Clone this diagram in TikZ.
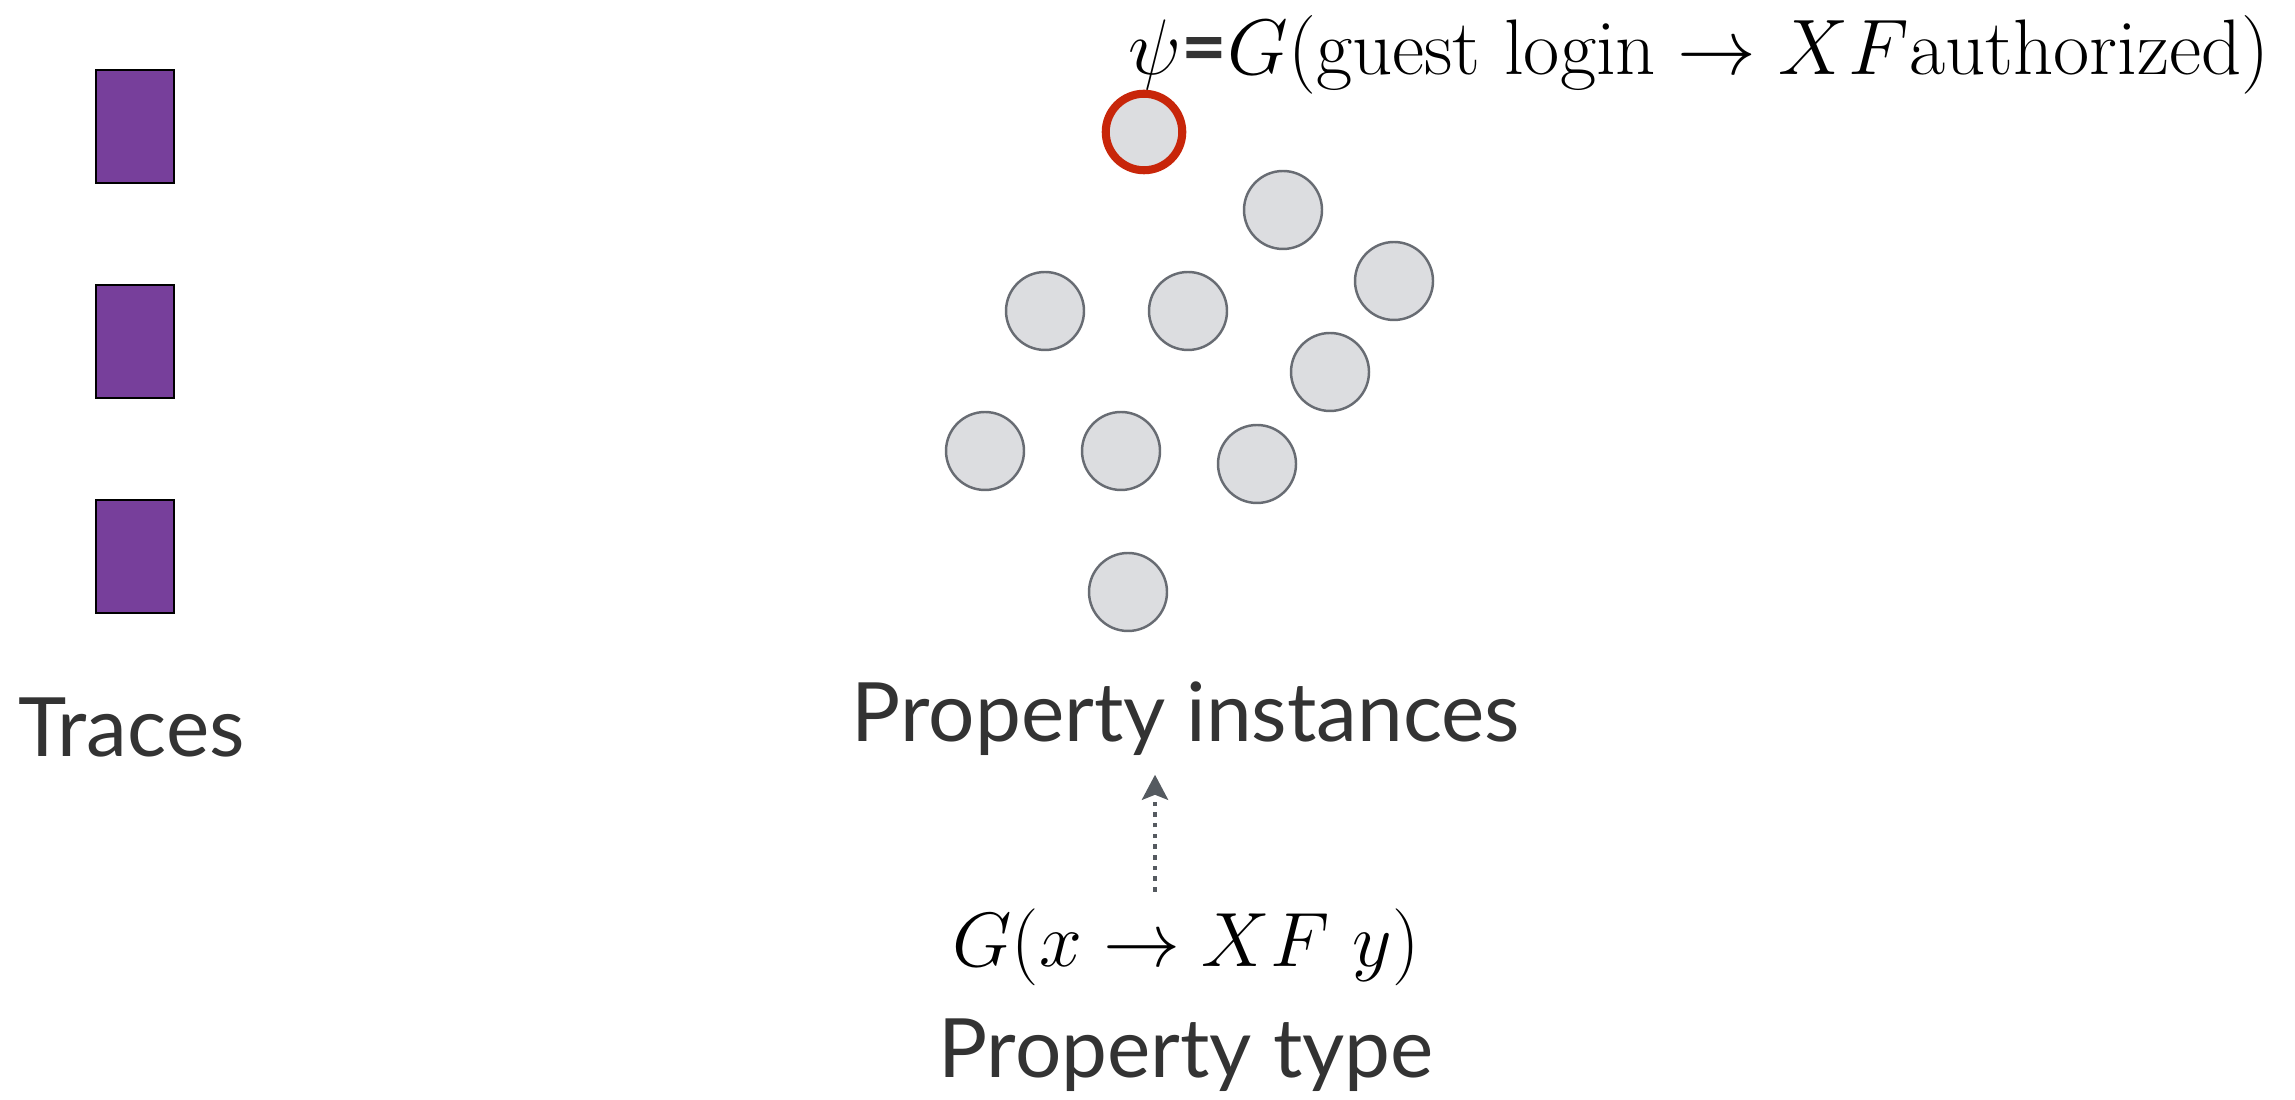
\RequirePackage{fix-cm}
\documentclass[tikz,border=0pt]{standalone}
\usepackage{fontspec}
\usetikzlibrary{arrows.meta,positioning}
\newfontfamily\labelfont{Lato}
\definecolor{TracePurple}{HTML}{773F9B}
\definecolor{InstGray}{HTML}{DCDDE0}
\definecolor{EdgeGray}{HTML}{686C73}
\definecolor{PickRed}{HTML}{C8260A}
\definecolor{TextGray}{HTML}{333333}
\definecolor{ArrowGray}{HTML}{555A60}

\begin{document}
\begin{tikzpicture}[
    trace/.style={draw=black,line width=0.6pt,fill=TracePurple,minimum width=0.78cm,minimum height=1.13cm,inner sep=0pt},
    inst/.style={circle,draw=EdgeGray,line width=0.7pt,fill=InstGray,minimum size=0.78cm,inner sep=0pt},
    picked/.style={inst,draw=PickRed,line width=2.3pt,minimum size=0.765cm},
    caption/.style={font=\labelfont\fontsize{23.3}{28}\selectfont,text=TextGray,inner sep=0pt},
    formula/.style={font=\fontsize{21.9}{26}\selectfont,inner sep=0pt},
    typearrow/.style={-{Stealth[length=0.25cm,width=0.26cm,inset=0.05cm]},ArrowGray,line width=0.045cm,dash pattern=on 0.045cm off 0.062cm}
  ]
  \useasboundingbox (0,0) rectangle (22.95,11);
  % Traces
  \foreach \i/\y in {1/9.735,2/7.585,3/5.435}
    \node[trace] (trace\i) at (1.35,\y) {};
  \node[caption,anchor=base] (tracelabel) at (1.315,3.43) {Traces};
  % Property instances
  \node[picked] (inst1) at (11.44,9.68) {};
  \foreach \i/\x/\y in {2/12.83/8.90, 3/13.94/8.19, 4/10.45/7.89, 5/11.88/7.89,
                        6/13.30/7.28, 7/9.85/6.49, 8/11.21/6.49, 9/12.57/6.36, 10/11.28/5.08}
    \node[inst] (inst\i) at (\x,\y) {};
  \node[caption,anchor=base] (instlabel) at (11.86,3.58) {Property instances};
  % Picked instance
  \node[formula,font=\fontsize{22.4}{27}\selectfont,anchor=base west] (psiform) at (11.28,10.25)
    {$\psi${\labelfont\bfseries\color{TextGray}=}$G(\mathrm{guest\ login}\rightarrow XF\mathrm{authorized})$};
  % Property type
  \node[formula,anchor=base] (typeform) at (11.86,1.33) {$G(x\rightarrow XF~y)$};
  \node[caption,anchor=base] (typelabel) at (11.86,0.22) {Property type};
  \draw[typearrow,shorten <=0.17cm,shorten >=0.18cm] ([xshift=-3.1mm]typeform.north) -- ([xshift=-3.1mm]instlabel.south);
\end{tikzpicture}
\end{document}
